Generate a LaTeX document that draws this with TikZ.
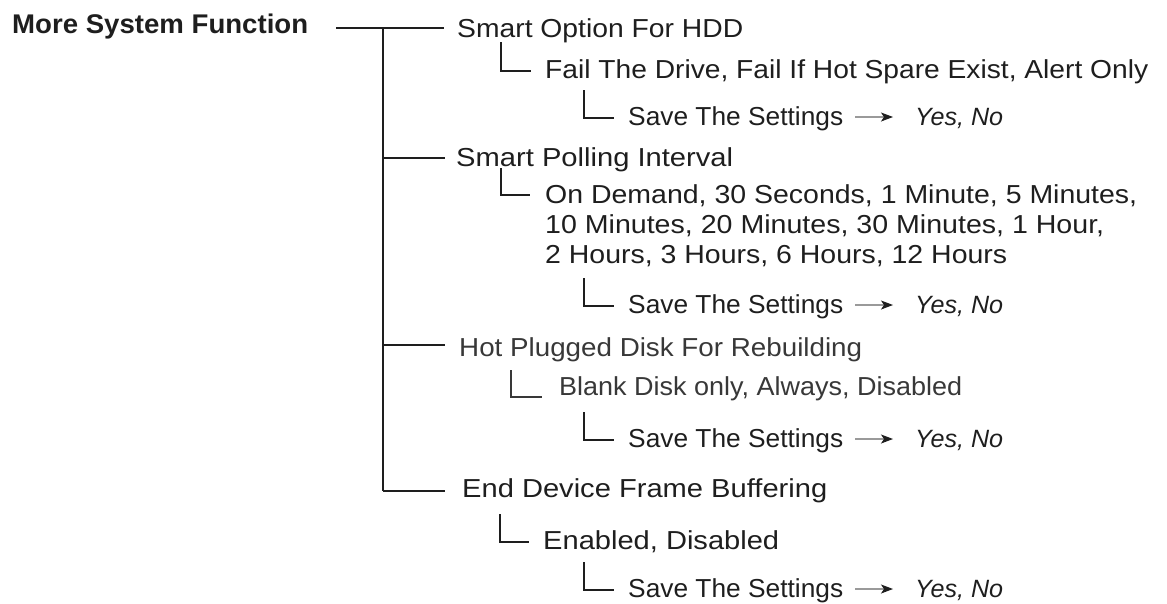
\documentclass[tikz,border=0pt]{standalone}
\usepackage{fontspec}
\setmainfont{Liberation Sans}
\usetikzlibrary{arrows.meta,calc}
\definecolor{ink}{HTML}{1E1E1E}
\definecolor{inkB}{HTML}{383838}
\definecolor{shaft}{HTML}{9A9A9A}
\newcommand\fitw[2]{\resizebox{#1pt}{\height}{#2}}
\begin{document}
\begin{tikzpicture}[x=1pt,y=-1pt,
  lbl/.style={anchor=base west,inner sep=0pt,text=ink,font=\fontsize{26}{30}\selectfont},
  lblB/.style={lbl,text=inkB},
  ttl/.style={lbl,font=\fontsize{27}{32}\selectfont\bfseries},
  yn/.style={lbl,font=\fontsize{25}{30}\selectfont\itshape},
  tree/.style={draw=ink,line width=2pt},
  treeB/.style={draw=inkB,line width=2pt},
  arr/.style={draw=shaft,line width=1.1pt,-{Stealth[length=12pt,width=9pt,inset=3pt,color=ink]}}]
\useasboundingbox (0,0) rectangle (1167,603);

% title and level-1 items
\node[ttl] (title) at (12,33) {\fitw{296}{More System Function}};
\node[lbl] (opt)  at (457,37)  {\fitw{286}{Smart Option For HDD}};
\node[lbl] (poll) at (456,166) {\fitw{277}{Smart Polling Interval}};
\node[lblB] (hot) at (459,356) {\fitw{403}{Hot Plugged Disk For Rebuilding}};
\node[lbl] (endd) at (462,497) {\fitw{365}{End Device Frame Buffering}};

% level-2 items
\node[lbl] (fail)  at (545,78)  {\fitw{603}{Fail The Drive, Fail If Hot Spare Exist, Alert Only}};
\node[lbl] (pollA) at (545,203) {\fitw{592}{On Demand, 30 Seconds, 1 Minute, 5 Minutes,}};
\node[lbl] (pollB) at (545,233) {\fitw{559}{10 Minutes, 20 Minutes, 30 Minutes, 1 Hour,}};
\node[lbl] (pollC) at (545,263) {\fitw{462}{2 Hours, 3 Hours, 6 Hours, 12 Hours}};
\node[lblB] (blank) at (559,395) {\fitw{403}{Blank Disk only, Always, Disabled}};
\node[lbl] (enab)  at (543,549) {\fitw{236}{Enabled, Disabled}};

% level-3 items
\foreach \i/\yb in {1/125,2/313,3/447,4/597}{
  \node[lbl] (save\i) at (628,\yb) {\fitw{215}{Save The Settings}};
  \node[yn]  (yes\i)  at (915,\yb) {\fitw{88}{Yes, No}};
  \draw[arr] ($(save\i.base east)+(12,-8)$) -- ($(yes\i.base west)+(-22,-8)$);
  \coordinate (S\i top) at (584,\yb-35);
  \coordinate (S\i end) at (614,\yb-7);
}

% trunk
\coordinate (h0) at (336,28);
\coordinate (h1) at (444,28);
\coordinate (trTop) at (383,28);
\coordinate (trBot) at (383,491);
\coordinate (b2) at (445,158);
\coordinate (b3) at (445,345);
\coordinate (b4) at (445,491);
\draw[tree] (h0) -- (h1);
\draw[tree] (trTop) -- (trBot);
\draw[tree] (trTop |- b2) -- (b2);
\draw[tree] (trTop |- b3) -- (b3);
\draw[tree] (trBot) -- (b4);

% level-2 elbows
\coordinate (L1top) at (501,42);  \coordinate (L1end) at (531,71);
\coordinate (L2top) at (501,168); \coordinate (L2end) at (530,195);
\coordinate (L3top) at (511,370); \coordinate (L3end) at (542,397);
\coordinate (L4top) at (500,514); \coordinate (L4end) at (529,542);
\draw[tree]  (L1top) |- (L1end);
\draw[tree]  (L2top) |- (L2end);
\draw[treeB] (L3top) |- (L3end);
\draw[tree]  (L4top) |- (L4end);

% level-3 elbows
\foreach \i in {1,2,3,4}{
  \draw[tree] (S\i top) |- (S\i end);
}
\end{tikzpicture}
\end{document}
